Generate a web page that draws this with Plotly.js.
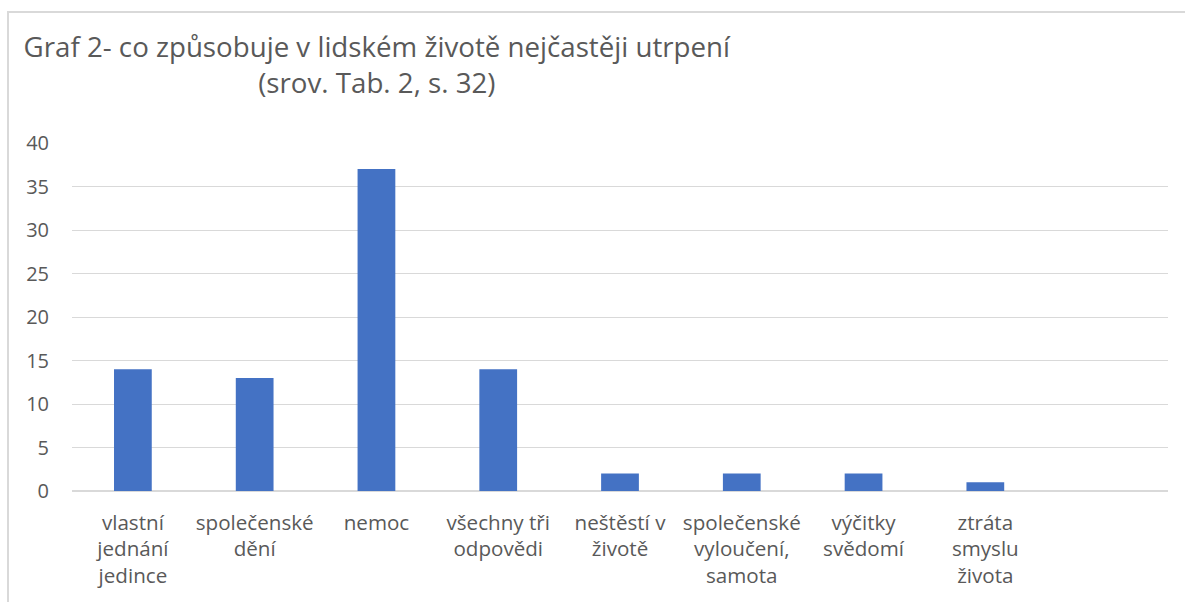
<!DOCTYPE html>
<html>
<head>
<meta charset="utf-8">
<script src="https://cdn.plot.ly/plotly-3.0.1.min.js"></script>
<style>
  html, body { margin: 0; padding: 0; background: #fff; }
  #wrap { position: relative; width: 1185px; height: 602px; overflow: hidden; }
  #frame { position: absolute; left: 7px; top: 11px; width: 1200px; height: 700px;
           border-top: 2px solid #d9d9d9; border-left: 2px solid #d9d9d9; pointer-events: none; z-index: 5; }
  #chart { position: absolute; left: 0; top: 0; width: 1185px; height: 602px; }
</style>
</head>
<body>
<div id="wrap">
  <div id="chart"></div>
  <div id="frame"></div>
</div>
<script>
const titleText = "Graf 2- co způsobuje v lidském životě nejčastěji utrpení<br>(srov. Tab. 2, s. 32)";
const categories = [
  "vlastní<br>jednání<br>jedince",
  "společenské<br>dění",
  "nemoc",
  "všechny tři<br>odpovědi",
  "neštěstí v<br>životě",
  "společenské<br>vyloučení,<br>samota",
  "výčitky<br>svědomí",
  "ztráta<br>smyslu<br>života"
];
const values = [14, 13, 37, 14, 2, 2, 2, 1];
const yTicks = [0, 5, 10, 15, 20, 25, 30, 35, 40];

const font = "'Open Sans', sans-serif";
const grey = "#595959";

Plotly.newPlot("chart", [{
  type: "bar",
  x: categories,
  y: values,
  width: 0.31,
  marker: { color: "#4472C4" },
  hoverinfo: "skip"
}], {
  width: 1185,
  height: 602,
  margin: { l: 72, r: 17, t: 143, b: 111 },
  paper_bgcolor: "#ffffff",
  plot_bgcolor: "#ffffff",
  showlegend: false,
  title: {
    text: titleText,
    x: 0.318, xref: "container", xanchor: "center",
    y: 0.905, yref: "container", yanchor: "middle",
    font: { family: font, size: 27.7, color: grey }
  },
  xaxis: {
    type: "category",
    range: [-0.5, 8.5],
    showgrid: false,
    zeroline: false,
    showline: false,
    ticks: "",
    ticklabelstandoff: 17,
    tickfont: { family: font, size: 20.6, color: grey },
    fixedrange: true
  },
  yaxis: {
    range: [0, 40],
    tickvals: yTicks,
    ticktext: yTicks.map(String),
    showgrid: true,
    gridcolor: "#d9d9d9",
    gridwidth: 1,
    zeroline: true,
    zerolinecolor: "#d9d9d9",
    zerolinewidth: 2,
    showline: false,
    ticks: "",
    ticklabelstandoff: 22,
    tickfont: { family: font, size: 20, color: grey },
    fixedrange: true
  }
}, { displayModeBar: false, staticPlot: true });
</script>
</body>
</html>
